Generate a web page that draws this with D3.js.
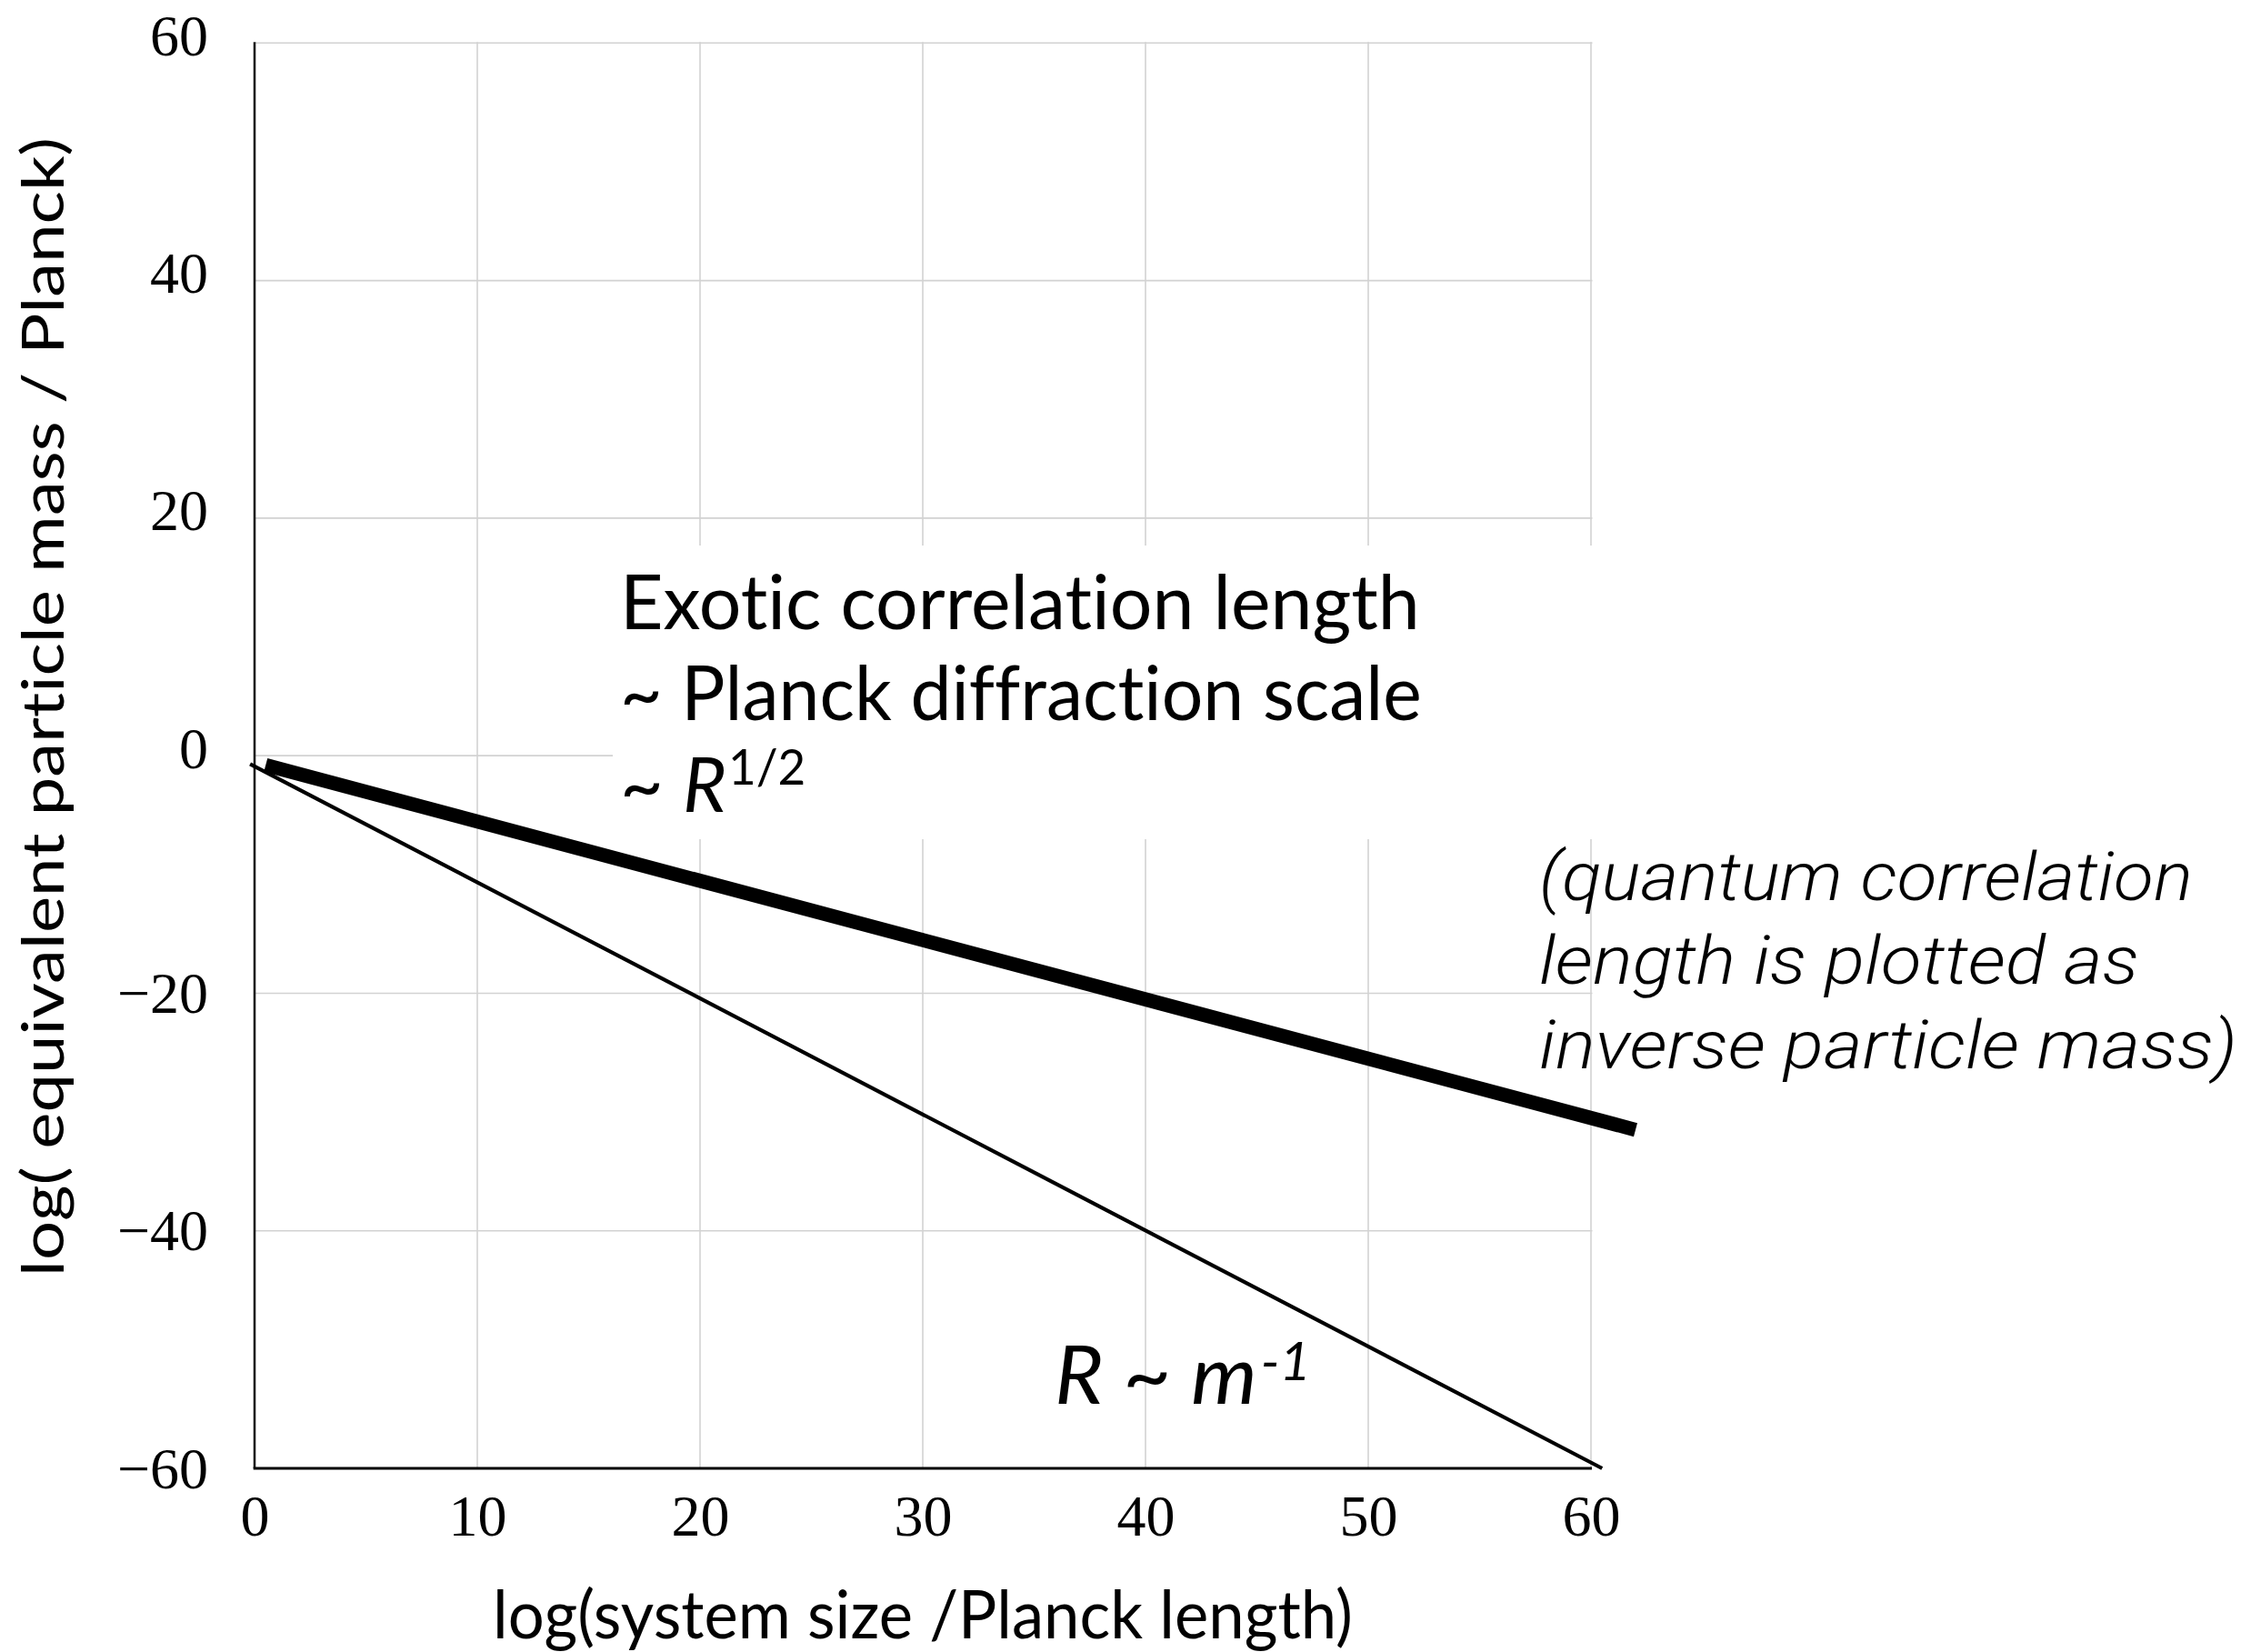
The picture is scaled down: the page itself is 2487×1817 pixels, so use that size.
<!DOCTYPE html>
<html>
<head>
<meta charset="utf-8">
<script src="https://cdn.jsdelivr.net/npm/d3@7"></script>
<style>
  html, body { margin: 0; padding: 0; background: #fff; }
  svg { display: block; }
  text { font-variant-ligatures: none; font-feature-settings: "liga" 0, "clig" 0; }
</style>
</head>
<body>
<svg id="chart" width="2487" height="1817"></svg>
<script>
// Axis ticks
const xTicks = [0, 10, 20, 30, 40, 50, 60];
const yTicks = [60, 40, 20, 0, -20, -40, -60];

// Exotic correlation length (thick line), in log units
const exoticX = [0.5, 62];
const exoticY = [-0.8, -31.5];

// Quantum correlation length R ~ m^-1 (thin line)
const quantumX = [-0.2, 60.5];
const quantumY = [-0.7, -60];

// Text
const xTitle = "log(system size /Planck length)";
const yTitle = "log( equivalent particle mass / Planck)";
const exoticLines = ["Exotic correlation length", "~ Planck diffraction scale"];
const noteLines = ["(quantum correlation", "length is plotted as", "inverse particle mass)"];

const svg = d3.select("#chart");
svg.append("rect").attr("width", 2487).attr("height", 1817).attr("fill", "#fff");

const x = d3.scaleLinear().domain([0, 60]).range([280, 1750]);
const y = d3.scaleLinear().domain([-60, 60]).range([1615, 47.3]);

const gridColor = "#d2d2d2";

// Gridlines
svg.append("g").selectAll("line")
  .data(yTicks.filter(v => v !== -60))
  .join("line")
  .attr("x1", x(0)).attr("x2", x(60) + 1.5)
  .attr("y1", d => y(d)).attr("y2", d => y(d))
  .attr("stroke", gridColor).attr("stroke-width", 1.6);

svg.append("g").selectAll("line")
  .data(xTicks.filter(v => v !== 0))
  .join("line")
  .attr("x1", d => x(d)).attr("x2", d => x(d))
  .attr("y1", y(60) - 1).attr("y2", y(-60))
  .attr("stroke", gridColor).attr("stroke-width", 1.6);

// White panel behind the main annotation
svg.append("rect")
  .attr("x", 674).attr("y", 600)
  .attr("width", 1090).attr("height", 323)
  .attr("fill", "#fff");

// Axes
const xAxis = svg.append("g")
  .attr("transform", `translate(0,${y(-60)})`)
  .call(d3.axisBottom(x).tickValues(xTicks).tickSize(0).tickFormat(d3.format("d")));
xAxis.select(".domain").remove();
xAxis.selectAll("text")
  .attr("y", 74).attr("dy", 0)
  .attr("font-family", "'Liberation Serif', 'DejaVu Serif', serif")
  .attr("font-size", 64).attr("fill", "#000");

const yAxis = svg.append("g")
  .attr("transform", `translate(${x(0)},0)`)
  .call(d3.axisLeft(y).tickValues(yTicks).tickSize(0));
yAxis.select(".domain").remove();
yAxis.selectAll("text")
  .attr("x", -51)
  .attr("dy", d => d >= 0 ? 13 : 21)
  .attr("font-family", "'Liberation Serif', 'DejaVu Serif', serif")
  .attr("font-size", 64).attr("fill", "#000");

svg.append("line")
  .attr("x1", x(0)).attr("x2", x(0))
  .attr("y1", y(60) - 1).attr("y2", y(-60))
  .attr("stroke", "#1e1e1e").attr("stroke-width", 2.6);
svg.append("line")
  .attr("x1", x(0) - 1.3).attr("x2", x(60) + 1)
  .attr("y1", y(-60)).attr("y2", y(-60))
  .attr("stroke", "#000").attr("stroke-width", 3);

// Data lines
const line = d3.line().x(d => x(d[0])).y(d => y(d[1]));

svg.append("path")
  .datum(quantumX.map((v, i) => [v, quantumY[i]]))
  .attr("d", line)
  .attr("fill", "none").attr("stroke", "#000").attr("stroke-width", 4.2);

svg.append("path")
  .datum(exoticX.map((v, i) => [v, exoticY[i]]))
  .attr("d", line)
  .attr("fill", "none").attr("stroke", "#000").attr("stroke-width", 15.5);

// Stretch a group horizontally so that its measured text spans the given width
function stretch(g, node, left, width) {
  const bb = node.getBBox();
  const sx = width / bb.width;
  g.attr("transform", `translate(${left - bb.x * sx},0) scale(${sx},1)`);
  return sx;
}

// One line of text in its own group, fitted to a left edge and width
function fittedLine(str, left, width, baseline, attrs) {
  const g = svg.append("g");
  const t = g.append("text").attr("x", 0).attr("y", baseline).text(str);
  Object.entries(attrs).forEach(([k, v]) => t.attr(k, v));
  return stretch(g, t.node(), left, width);
}

const sans = "Lato, 'Open Sans', 'DejaVu Sans', sans-serif";

// Main annotation
const exAttrs = { "font-family": sans, "font-size": 84, "fill": "#000" };
const exSx = fittedLine(exoticLines[0], 682, 880, 692, exAttrs);
fittedLine(exoticLines[1], 682, 882, 792, exAttrs);
{
  const g = svg.append("g").attr("transform", `translate(682,0) scale(${exSx},1)`);
  const t = g.append("text")
    .attr("font-family", sans).attr("font-size", 84).attr("fill", "#000")
    .attr("x", 0).attr("y", 893);
  t.append("tspan").text("~ ");
  t.append("tspan").attr("font-style", "italic").text("R");
  t.append("tspan").attr("font-size", 54).attr("dy", -30).attr("dx", 2).text("1/2");
}

// Note about the quantum correlation length
const noteAttrs = {
  "font-family": "Roboto, 'Liberation Sans', sans-serif",
  "font-weight": 300, "font-style": "italic", "font-size": 74, "fill": "#000"
};
const noteWidths = [719, 660, 768];
noteLines.forEach((s, i) => fittedLine(s, 1693, noteWidths[i], 990 + i * 92.5, noteAttrs));

// R ~ m^-1 label
const rm = svg.append("g");
const rmText = rm.append("text")
  .attr("font-family", sans).attr("font-style", "italic")
  .attr("font-size", 90).attr("fill", "#000");
rmText.append("tspan").attr("x", 0).attr("y", 1544).text("R ~ m");
rmText.append("tspan").attr("font-size", 58).attr("dy", -26).attr("dx", 4).text("-1");
stretch(rm, rmText.node(), 1160, 282);

// Axis titles
fittedLine(xTitle, 542, 946, 1802, { "font-family": sans, "font-size": 74, "fill": "#000" });

const yt = svg.append("g");
const ytText = yt.append("text")
  .attr("font-family", sans).attr("font-size", 64).attr("fill", "#000")
  .attr("x", 0).attr("y", 0).text(yTitle);
{
  const bb = ytText.node().getBBox();
  const sx = 1253 / bb.width;
  yt.attr("transform", `translate(70,${1404 + bb.x * sx}) rotate(-90) scale(${sx},1)`);
}
</script>
</body>
</html>
